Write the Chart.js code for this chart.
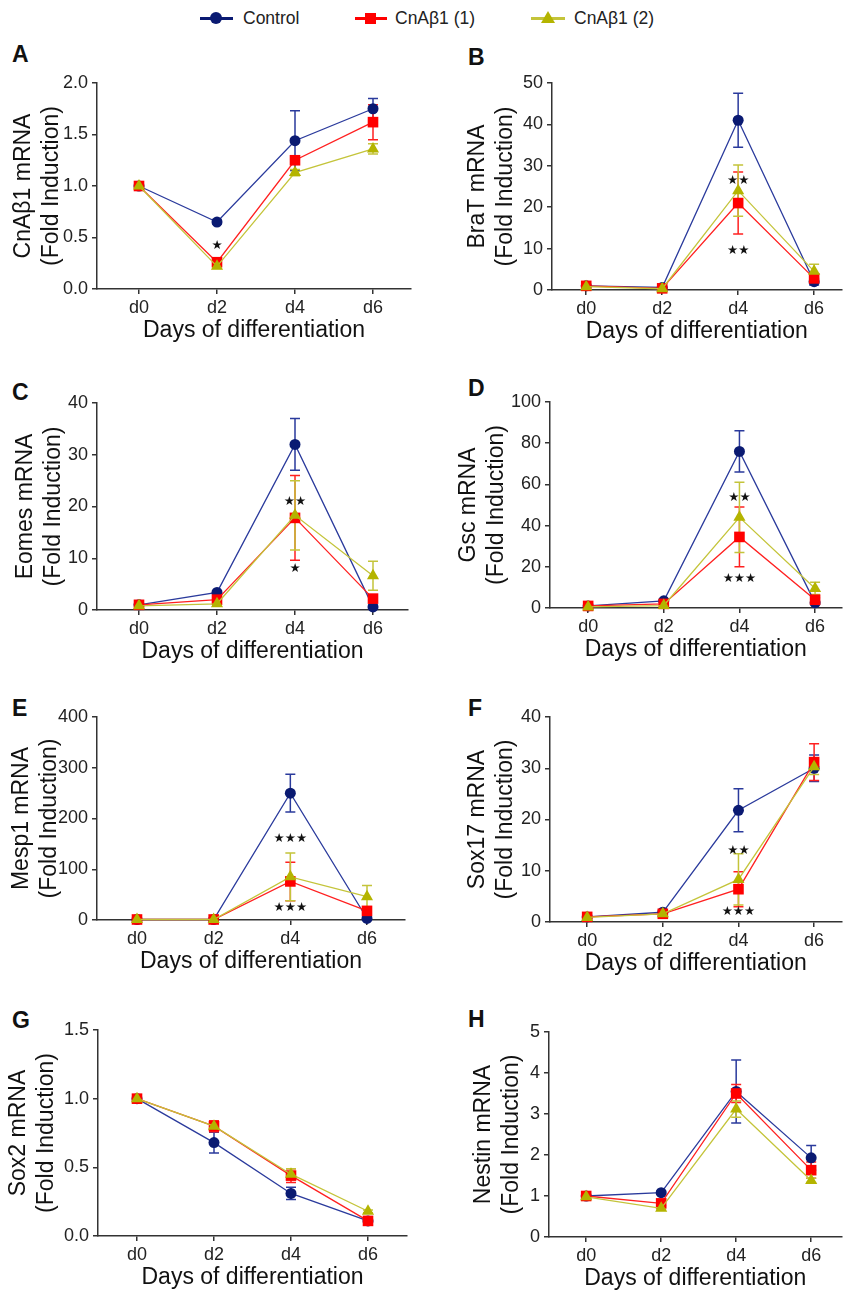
<!DOCTYPE html>
<html><head><meta charset="utf-8">
<script src="https://cdn.jsdelivr.net/npm/chart.js@4/dist/chart.umd.min.js"></script>
<style>
html,body{margin:0;padding:0;background:#fff;}
body{width:849px;height:1290px;position:relative;overflow:hidden;font-family:'Liberation Sans',Arial,sans-serif;}
canvas{position:absolute;}
.letter{position:absolute;font-weight:bold;font-size:23px;line-height:23px;color:#111;}
.legtext{position:absolute;top:8px;font-size:17.5px;line-height:20px;color:#222;white-space:nowrap;}
.legline{position:absolute;top:17px;height:3px;}
</style></head><body>
<div class="legline" style="left:200px;width:33px;background:#0a1a72"></div>
<div style="position:absolute;left:210px;top:12px;width:12px;height:12px;border-radius:50%;background:#0a1a72"></div>
<div class="legtext" style="left:243px">Control</div>
<div class="legline" style="left:355px;width:32px;background:#ff0000"></div>
<div style="position:absolute;left:365px;top:13px;width:11px;height:11px;background:#ff0000"></div>
<div class="legtext" style="left:395px">CnAβ1 (1)</div>
<div class="legline" style="left:531px;width:34px;background:#c4c43a"></div>
<div style="position:absolute;left:541px;top:11px;width:0;height:0;border-left:7px solid transparent;border-right:7px solid transparent;border-bottom:12px solid #b4b400"></div>
<div class="legtext" style="left:574px">CnAβ1 (2)</div>

<script>
// ---------- DATA ----------
const days = ['d0', 'd2', 'd4', 'd6'];
const seriesNames = ['Control', 'CnAβ1 (1)', 'CnAβ1 (2)'];
const panelLetters = ['A', 'B', 'C', 'D', 'E', 'F', 'G', 'H'];
const geneNames = ['CnAβ1', 'BraT', 'Eomes', 'Gsc', 'Mesp1', 'Sox17', 'Sox2', 'Nestin'];
const yAxisMax = [2, 50, 40, 100, 400, 40, 1.5, 5];
const yAxisStep = [0.5, 10, 10, 20, 100, 10, 0.5, 1];
const yAxisDecimals = [1, 0, 0, 0, 0, 0, 1, 0];
const xAxisTitle = 'Days of differentiation';

// A: CnAβ1
const A_control = [1.00, 0.65, 1.44, 1.75];
const A_control_err = [0, 0.02, 0.29, 0.10];
const A_cn1 = [1.00, 0.26, 1.25, 1.62];
const A_cn1_err = [0, 0.03, 0.03, 0.17];
const A_cn2 = [1.00, 0.22, 1.13, 1.36];
const A_cn2_err = [0, 0.02, 0.03, 0.05];
const A_stars = [{ day: 1, value: 0.42, text: '★' }];

// B: BraT
const B_control = [1.0, 0.6, 41.0, 2.0];
const B_control_err = [0, 0.2, 6.5, 0.8];
const B_cn1 = [1.0, 0.4, 21.0, 2.8];
const B_cn1_err = [0, 0.2, 7.5, 1.0];
const B_cn2 = [0.8, 0.3, 24.0, 4.5];
const B_cn2_err = [0, 0.2, 6.2, 1.7];
const B_stars = [{ day: 2, value: 26.5, text: '★★' }, { day: 2, value: 9.5, text: '★★' }];

// C: Eomes
const C_control = [1.0, 3.4, 32.0, 0.6];
const C_control_err = [0, 0.3, 5.0, 0.3];
const C_cn1 = [1.0, 2.0, 17.8, 2.2];
const C_cn1_err = [0, 0.3, 8.2, 0.5];
const C_cn2 = [0.8, 1.2, 18.3, 6.6];
const C_cn2_err = [0, 0.3, 6.7, 2.8];
const C_stars = [{ day: 2, value: 21.0, text: '★★' }, { day: 2, value: 8.0, text: '★' }];

// D: Gsc
const D_control = [1.0, 3.5, 76.0, 2.5];
const D_control_err = [0, 0.5, 10.0, 0.8];
const D_cn1 = [1.0, 2.0, 34.5, 4.0];
const D_cn1_err = [0, 0.5, 14.5, 1.0];
const D_cn2 = [0.5, 1.2, 44.0, 9.5];
const D_cn2_err = [0, 0.5, 17.0, 3.0];
const D_stars = [{ day: 2, value: 53.5, text: '★★' }, { day: 2, value: 14.0, text: '★★★' }];

// E: Mesp1
const E_control = [1, 1, 250, 3];
const E_control_err = [0, 0, 37, 2];
const E_cn1 = [1, 1, 76, 18];
const E_cn1_err = [0, 0, 38, 8];
const E_cn2 = [1, 1, 85, 46];
const E_cn2_err = [0, 0, 47, 22];
const E_stars = [{ day: 2, value: 160, text: '★★★' }, { day: 2, value: 25, text: '★★★' }];

// F: Sox17
const F_control = [1.0, 1.9, 21.8, 30.0];
const F_control_err = [0, 0.2, 4.2, 2.6];
const F_cn1 = [1.0, 1.6, 6.4, 31.2];
const F_cn1_err = [0, 0.2, 3.4, 3.6];
const F_cn2 = [0.9, 1.6, 8.3, 30.3];
const F_cn2_err = [0, 0.2, 5.0, 1.5];
const F_stars = [{ day: 2, value: 14.0, text: '★★' }, { day: 2, value: 2.0, text: '★★★' }];

// G: Sox2
const G_control = [1.00, 0.68, 0.31, 0.11];
const G_control_err = [0, 0.075, 0.045, 0.01];
const G_cn1 = [1.00, 0.80, 0.44, 0.11];
const G_cn1_err = [0, 0.04, 0.05, 0.01];
const G_cn2 = [1.00, 0.80, 0.45, 0.18];
const G_cn2_err = [0, 0.02, 0.04, 0.01];
const G_stars = [];

// H: Nestin
const H_control = [1.00, 1.08, 3.55, 1.93];
const H_control_err = [0, 0.03, 0.77, 0.30];
const H_cn1 = [1.00, 0.82, 3.50, 1.63];
const H_cn1_err = [0, 0.05, 0.22, 0.20];
const H_cn2 = [0.98, 0.70, 3.12, 1.38];
const H_cn2_err = [0, 0.03, 0.20, 0.05];
const H_stars = [];

const panelSeries = [
  [A_control, A_cn1, A_cn2], [B_control, B_cn1, B_cn2], [C_control, C_cn1, C_cn2], [D_control, D_cn1, D_cn2],
  [E_control, E_cn1, E_cn2], [F_control, F_cn1, F_cn2], [G_control, G_cn1, G_cn2], [H_control, H_cn1, H_cn2]
];
const panelErrors = [
  [A_control_err, A_cn1_err, A_cn2_err], [B_control_err, B_cn1_err, B_cn2_err], [C_control_err, C_cn1_err, C_cn2_err], [D_control_err, D_cn1_err, D_cn2_err],
  [E_control_err, E_cn1_err, E_cn2_err], [F_control_err, F_cn1_err, F_cn2_err], [G_control_err, G_cn1_err, G_cn2_err], [H_control_err, H_cn1_err, H_cn2_err]
];
const panelStars = [A_stars, B_stars, C_stars, D_stars, E_stars, F_stars, G_stars, H_stars];

// ---------- LAYOUT / STYLE ----------
const FONT = "'Liberation Sans', Arial, sans-serif";
const layouts = [
  { left: 0, width: 425, top: 83, bottom: 289, axisX: 97, titleX: 24, right: 411, d0: 139, d6: 373, letterTop: 43 },
  { left: 425, width: 424, top: 83, bottom: 290, axisX: 552, titleX: 478, right: 848, d0: 587, d6: 820, letterTop: 46 },
  { left: 0, width: 425, top: 403, bottom: 610, axisX: 97, titleX: 26, right: 408, d0: 139, d6: 373, letterTop: 381 },
  { left: 425, width: 424, top: 402, bottom: 608, axisX: 550, titleX: 469, right: 848, d0: 589, d6: 821, letterTop: 377 },
  { left: 0, width: 425, top: 717, bottom: 920, axisX: 97, titleX: 22, right: 405, d0: 137, d6: 367, letterTop: 697 },
  { left: 425, width: 424, top: 717, bottom: 922, axisX: 550, titleX: 478, right: 848, d0: 588, d6: 820, letterTop: 697 },
  { left: 0, width: 425, top: 1030, bottom: 1236, axisX: 98, titleX: 19, right: 407, d0: 137, d6: 368, letterTop: 1009 },
  { left: 425, width: 424, top: 1032, bottom: 1237, axisX: 549, titleX: 484, right: 848, d0: 587, d6: 817, letterTop: 1008 }
];
const styles = [
  { line: '#2a3a9c', marker: '#0a1a72', shape: 'circle', radius: 5.5, order: 2 },
  { line: '#ff2020', marker: '#ff0000', shape: 'rect', radius: 7.5, order: 1 },
  { line: '#c4c43a', marker: '#b4b400', shape: 'triangle', radius: 7, order: 0 }
];

const errPlugin = {
  id: 'errbars',
  beforeDatasetsDraw(chart) {
    const { ctx, scales: { x, y } } = chart;
    chart.data.datasets.forEach((ds) => {
      ctx.save();
      ctx.strokeStyle = ds.borderColor;
      ctx.lineWidth = 1.5;
      ds.data.forEach((p, j) => {
        const e = ds.errors[j];
        if (!e) return;
        const px = x.getPixelForValue(p.x);
        const yt = y.getPixelForValue(p.y + e);
        const yb = y.getPixelForValue(Math.max(0, p.y - e));
        ctx.beginPath();
        ctx.moveTo(px, yt); ctx.lineTo(px, yb);
        ctx.moveTo(px - 5, yt); ctx.lineTo(px + 5, yt);
        ctx.moveTo(px - 5, yb); ctx.lineTo(px + 5, yb);
        ctx.stroke();
      });
      ctx.restore();
    });
  },
  afterDatasetsDraw(chart, args, opts) {
    const { ctx, scales: { x, y } } = chart;
    ctx.save();
    ctx.fillStyle = '#111';
    ctx.font = "12.5px 'DejaVu Sans'";
    ctx.textAlign = 'center';
    ctx.textBaseline = 'middle';
    (opts.stars || []).forEach(s => {
      ctx.fillText(s.text, x.getPixelForValue(s.day), y.getPixelForValue(s.value));
    });
    ctx.restore();
  }
};

panelLetters.forEach((letter, k) => {
  const L = layouts[k];
  const canvasTop = L.top - 15;
  const canvasH = L.bottom + 60 - canvasTop;
  const spacing = (L.d6 - L.d0) / 3;
  const xMin = -(L.d0 - L.axisX) / spacing;
  const xMax = xMin + (L.right - L.axisX) / spacing;
  const titleLH = 1.2, titleSize = 23;
  const padLeft = L.titleX - L.left - (titleLH * titleSize) / 2;
  const yWidth = L.axisX - L.left - padLeft;

  const lt = document.createElement('div');
  lt.className = 'letter';
  lt.textContent = letter;
  lt.style.left = (L.left + (L.left ? 43 : 12)) + 'px';
  lt.style.top = L.letterTop + 'px';
  document.body.appendChild(lt);

  const cv = document.createElement('canvas');
  cv.width = L.width; cv.height = canvasH;
  cv.style.left = L.left + 'px'; cv.style.top = canvasTop + 'px';
  document.body.appendChild(cv);

  const datasets = seriesNames.map((name, s) => ({
    label: name,
    data: panelSeries[k][s].map((v, i) => ({ x: i, y: v })),
    errors: panelErrors[k][s],
    borderColor: styles[s].line,
    backgroundColor: styles[s].marker,
    pointBackgroundColor: styles[s].marker,
    pointBorderColor: styles[s].marker,
    pointBorderWidth: 0,
    pointStyle: styles[s].shape,
    pointRadius: styles[s].radius,
    borderWidth: 1.3,
    order: styles[s].order,
    clip: false
  }));

  const dec = yAxisDecimals[k];
  new Chart(cv, {
    type: 'line',
    data: { datasets },
    plugins: [errPlugin],
    options: {
      responsive: false, animation: false, devicePixelRatio: 1,
      layout: { padding: { left: padLeft, right: L.left + L.width - L.right, top: 15, bottom: 0 } },
      plugins: { legend: { display: false }, tooltip: { enabled: false }, errbars: { stars: panelStars[k] } },
      scales: {
        x: {
          type: 'linear', min: xMin, max: xMax,
          afterBuildTicks: sc => { sc.ticks = days.map((d, i) => ({ value: i })); },
          afterFit: sc => { sc.height = 60; },
          ticks: { callback: v => days[v], font: { size: 18, family: FONT }, color: '#222', padding: 3, autoSkip: false, maxRotation: 0 },
          grid: { display: true, drawOnChartArea: false, drawTicks: true, tickLength: 5, color: '#333', lineWidth: 1.5 },
          border: { display: true, color: '#333', width: 1.5 },
          title: { display: true, text: xAxisTitle, font: { size: 23, family: FONT }, color: '#111', padding: { top: 0, bottom: 5 } }
        },
        y: {
          min: 0, max: yAxisMax[k],
          afterFit: sc => { sc.width = yWidth; },
          ticks: { stepSize: yAxisStep[k], callback: v => Number(v).toFixed(dec), font: { size: 18, family: FONT }, color: '#222', padding: 4 },
          grid: { display: true, drawOnChartArea: false, drawTicks: true, tickLength: 5, color: '#333', lineWidth: 1.5 },
          border: { display: true, color: '#333', width: 1.5 },
          title: { display: true, text: [geneNames[k] + ' mRNA', '(Fold Induction)'], font: { size: titleSize, family: FONT, lineHeight: titleLH }, color: '#111', padding: { top: 0, bottom: 0 } }
        }
      }
    }
  });
});
</script>
</body></html>
